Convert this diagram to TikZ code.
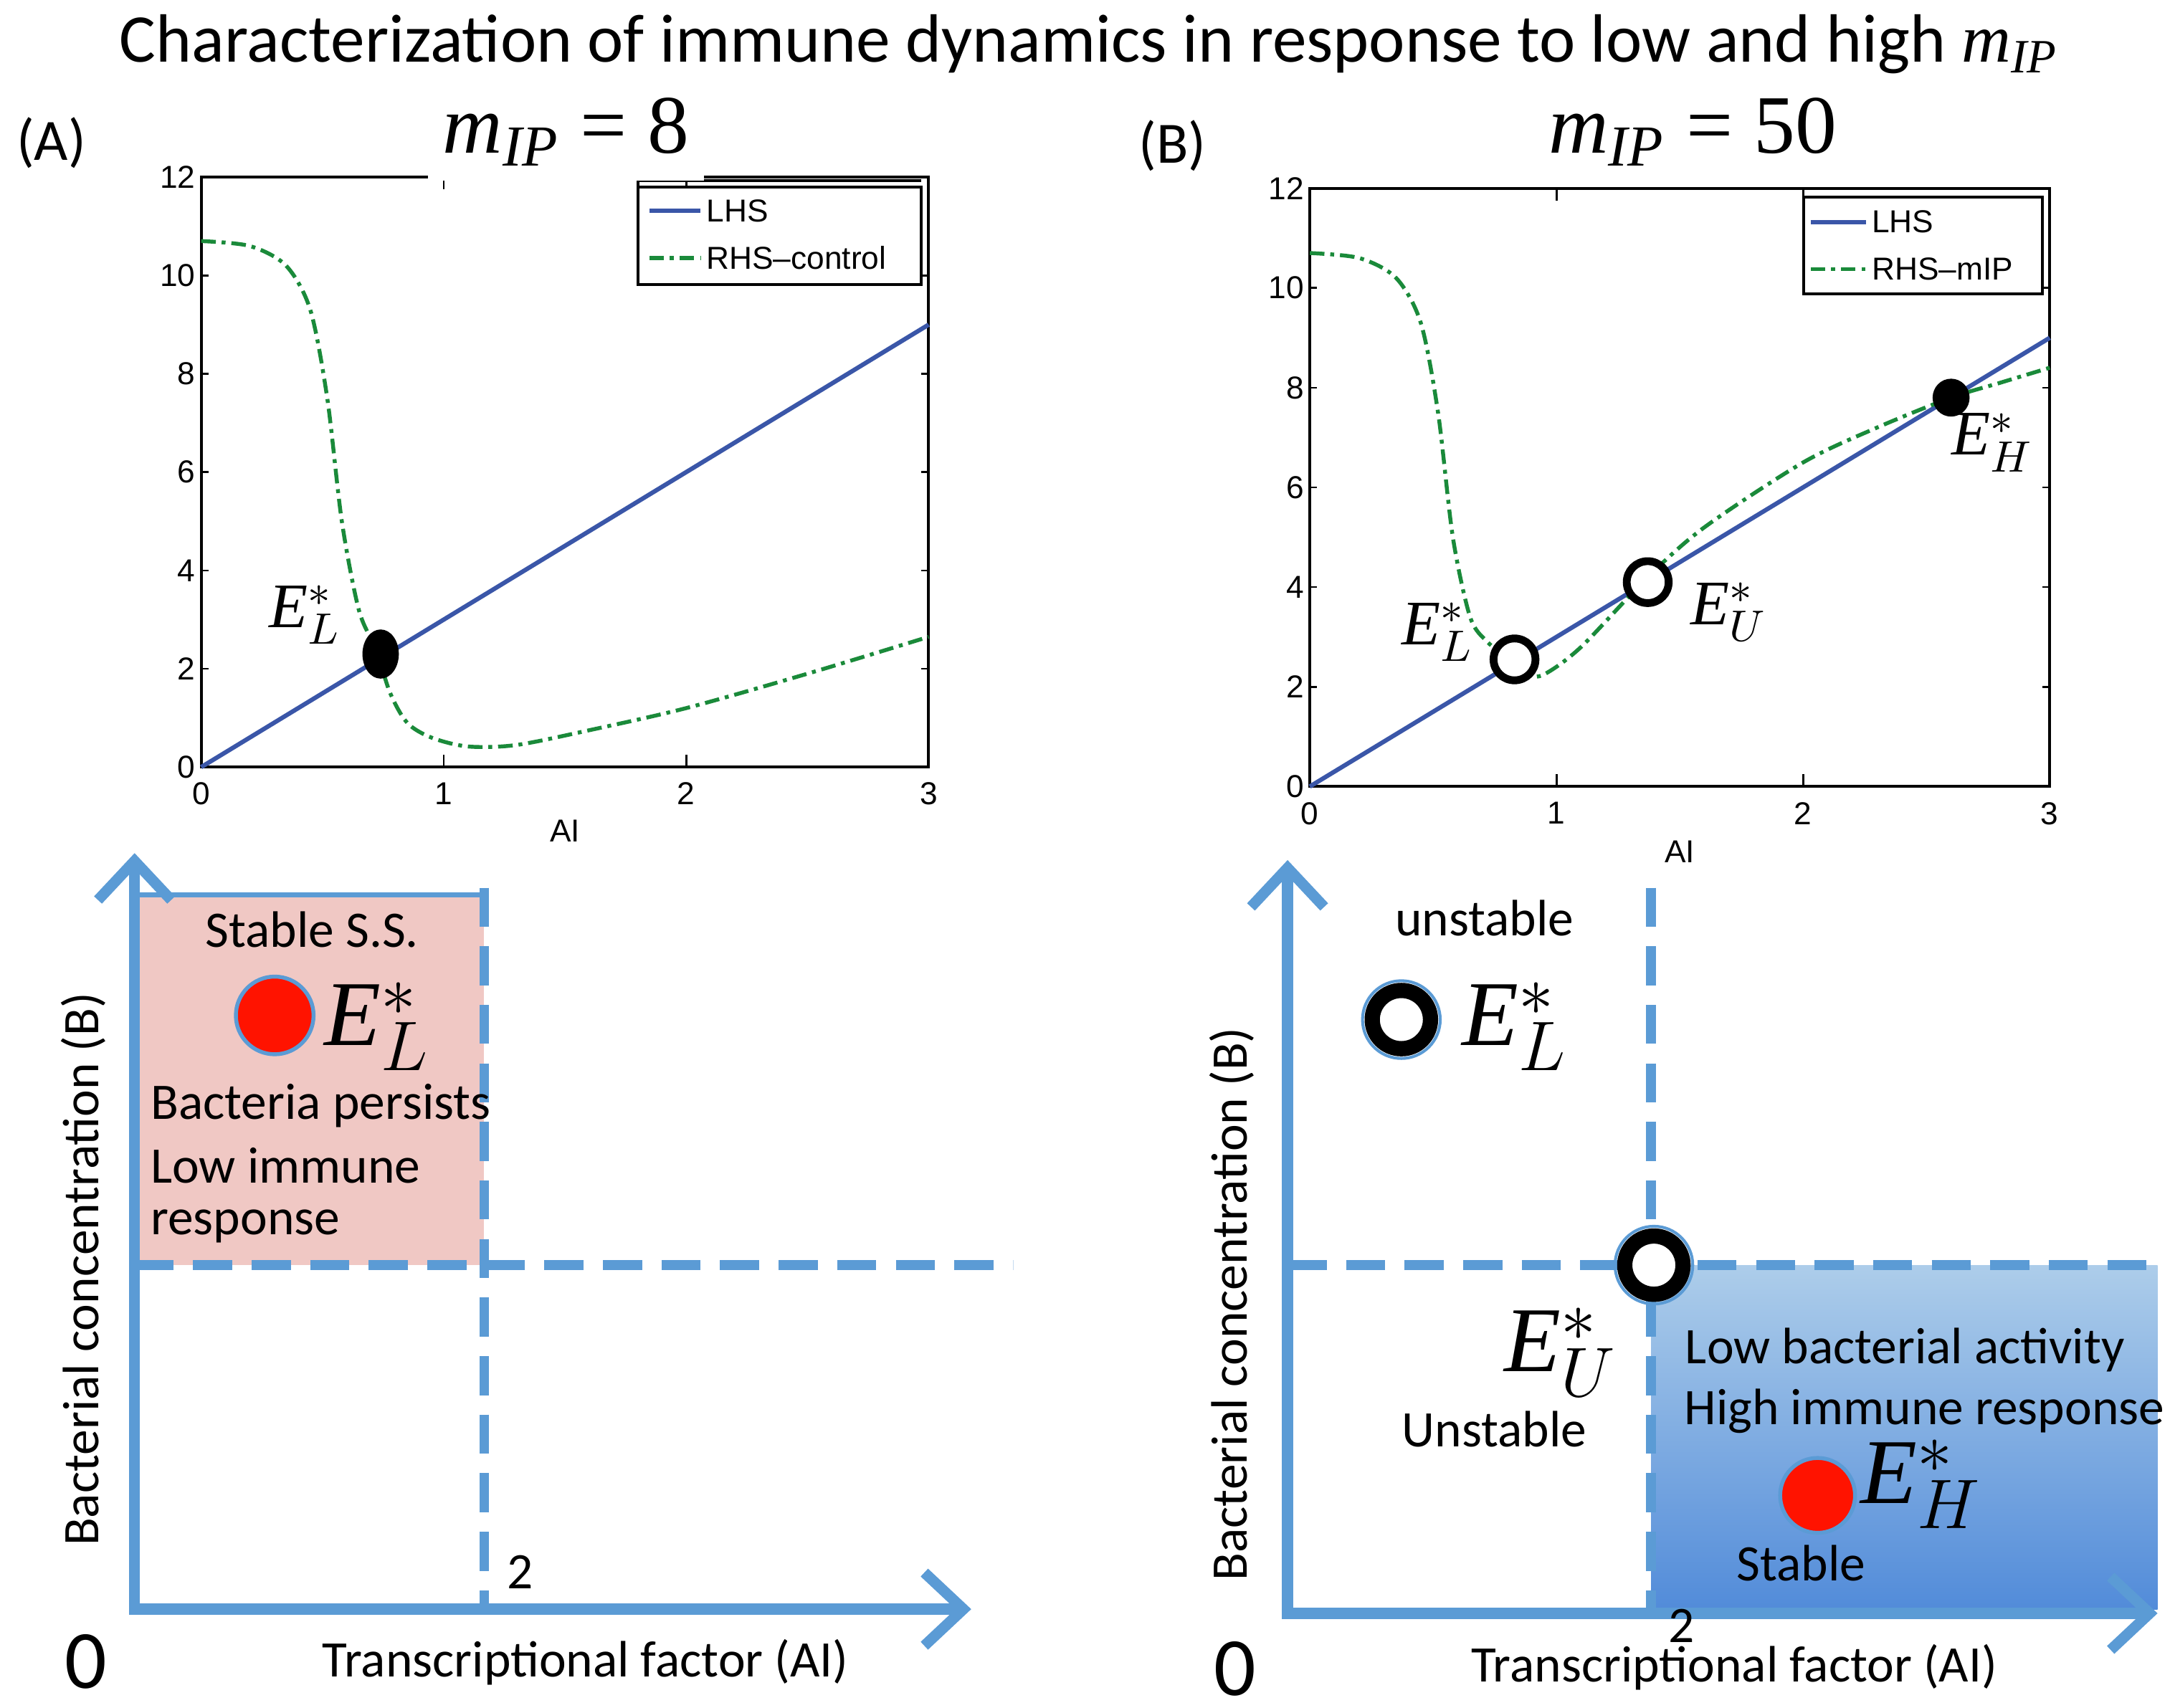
\documentclass[tikz,border=0pt]{standalone}
\usepackage{fontspec}
\setmainfont{Carlito}
\newfontfamily\arialf{Liberation Sans}
\newfontfamily\timesf{Liberation Serif}
\usetikzlibrary{arrows.meta}
\definecolor{ax}{HTML}{5B9BD5}
\definecolor{gr}{HTML}{1A8A3A}
\definecolor{lb}{HTML}{3A56A8}
\definecolor{pk}{HTML}{F0C8C4}
\tikzset{
 axarrow/.style={ax,line width=8pt*0.2845,-{Straight Barb[length=8pt,width=15pt,line width=2.2pt]}},
 dashax/.style={ax,line width=7pt*0.2845,dash pattern=on 8pt off 4pt},
 txt/.style={font=\fontsize{10.5}{12}\selectfont,inner sep=0pt},
 bigE/.style={font=\timesf\itshape\fontsize{19}{20}\selectfont,inner sep=0pt},
 midE/.style={font=\timesf\itshape\fontsize{13}{14}\selectfont,inner sep=0pt},
 tick/.style={font=\arialf\fontsize{6.5}{7}\selectfont,inner sep=1pt},
 green/.style={gr,line width=0.8pt,dash pattern=on 3pt off 1.2pt on 0.8pt off 1.2pt},
 lhs/.style={lb,line width=0.9pt},
 ring/.style={line width=11pt*0.2845,fill=white},
}
\begin{document}
\begin{tikzpicture}[x=0.01cm,y=-0.01cm]
\useasboundingbox (0,0) rectangle (1564,1231);
\fill[white] (0,0) rectangle (1564,1231);
\node[font=\fontsize{14}{16}\selectfont] (title) at (785,32) {Characterization of immune dynamics in response to low and high \textit{\timesf m\textsubscript{IP}}};
\node[font=\fontsize{12}{14}\selectfont] (la) at (37,103) {(A)};
\node[font=\fontsize{12}{14}\selectfont] (lbb) at (845,105) {(B)};
% Plot A
\begin{scope}[shift={(145,553)},x=1.7467cm,y=0.3542cm]
\draw[line width=0.6pt] (0,0) rectangle (3,12);
\foreach \i in {0,2,...,12}{\draw[line width=0.4pt] (0,\i)--(0.03,\i) (3,\i)--(2.97,\i); \node[tick,left] at (0,\i) {\i};}
\foreach \i in {0,1,2,3}{\draw[line width=0.4pt] (\i,0)--(\i,0.25) (\i,12)--(\i,11.75); \node[tick,below=2pt] at (\i,0) {\i};}
\node[tick] at (1.5,-1.3) {AI};
\draw[lhs] (0,0)--(3,9);
\draw[green] plot[smooth] coordinates {(0,10.7)(0.2,10.6)(0.35,10.2)(0.45,9.3)(0.52,7.5)(0.58,5)(0.65,3.2)(0.72,2.4)(0.78,1.5)(0.85,0.9)(0.95,0.6)(1.1,0.42)(1.3,0.45)(1.6,0.75)(2,1.2)(2.5,1.9)(3,2.65)};
\fill (0.74,2.3) ellipse (0.075 and 0.5);
\node[midE] at (0.43,3.1) {E$^*_L$};
\end{scope}
\draw[fill=white,line width=0.6pt] (460,135) rectangle (664,205);
\draw[lhs] (468,152)--(505,152); \node[tick,right] at (505,152) {LHS};
\draw[green] (468,186)--(505,186); \node[tick,right] at (505,186) {RHS\textendash control};
\draw[line width=0.6pt] (460,205)--(460,130)--(664,130);
\node[fill=white,inner sep=3pt,font=\timesf\fontsize{17}{18}\selectfont] (ta) at (408,95) {\textit{m\textsubscript{IP}} = 8};
% Plot B
\begin{scope}[shift={(944,567)},x=1.7767cm,y=0.3592cm]
\draw[line width=0.6pt] (0,0) rectangle (3,12);
\foreach \i in {0,2,...,12}{\draw[line width=0.4pt] (0,\i)--(0.03,\i) (3,\i)--(2.97,\i); \node[tick,left] at (0,\i) {\i};}
\foreach \i in {0,1,2,3}{\draw[line width=0.4pt] (\i,0)--(\i,0.25) (\i,12)--(\i,11.75); \node[tick,below=2pt] at (\i,0) {\i};}
\node[tick] at (1.5,-1.3) {AI};
\draw[lhs] (0,0)--(3,9);
\draw[green] plot[smooth] coordinates {(0,10.7)(0.2,10.6)(0.35,10.2)(0.45,9.3)(0.52,7.5)(0.58,5)(0.65,3.4)(0.72,2.9)(0.8,2.6)(0.88,2.25)(0.95,2.25)(1.1,2.8)(1.37,4.2)(1.6,5.2)(2,6.5)(2.3,7.2)(2.6,7.8)(2.8,8.1)(3,8.4)};
\draw[line width=1.6pt,fill=white] (0.83,2.55) circle (0.085 and 0.42);
\draw[line width=1.6pt,fill=white] (1.37,4.1) circle (0.085 and 0.42);
\fill (2.6,7.8) circle (0.075 and 0.38);
\node[midE] at (0.52,3.1) {E$^*_L$};
\node[midE] at (1.7,3.5) {E$^*_U$};
\node[midE] at (2.77,6.9) {E$^*_H$};
\end{scope}
\draw[fill=white,line width=0.6pt] (1300,142) rectangle (1472,212);
\draw[lhs] (1305,160)--(1345,160); \node[tick,right] at (1345,160) {LHS};
\draw[green] (1305,194)--(1345,194); \node[tick,right] at (1345,194) {RHS\textendash mIP};
\node[fill=white,inner sep=3pt,font=\timesf\fontsize{17}{18}\selectfont] (tb) at (1220,95) {\textit{m\textsubscript{IP}} = 50};
% Bottom A
\fill[pk] (97,645) rectangle (349,912);
\draw[ax,line width=1pt] (97,645)--(349,645);
\draw[dashax] (349,640)--(349,1162);
\draw[dashax] (97,912)--(730,912);
\draw[axarrow] (97,1162)--(97,615);
\draw[axarrow] (93,1160)--(700,1160);
\node[txt] at (225,670) {Stable S.S.};
\draw[ax,fill=red!85!orange,line width=0.8pt] (198,732) circle (28);
\node[bigE] at (272,740) {E$^*_L$};
\node[txt,right] at (108,797) {Bacteria persists};
\node[txt,right] at (108,840) {Low immune};
\node[txt,right] at (108,884) {response};
\node[txt] at (375,1133) {2};
\node[font=\fontsize{17}{18}\selectfont,inner sep=0pt] at (62,1198) {0};
\node[txt] at (422,1198) {Transcriptional factor (AI)};
\node[txt,rotate=90] at (60,915) {Bacterial concentration (B)};
% Bottom B
\shade[top color=ax!50!white,bottom color=ax!90!blue] (1190,912) rectangle (1555,1160);
\draw[dashax] (1190,640)--(1190,1160);
\draw[dashax] (928,912)--(1555,912);
\draw[axarrow] (928,1165)--(928,620);
\draw[axarrow] (924,1163)--(1555,1163);
\draw[ring] (1192,912) circle (21);
\draw[ax,line width=0.6pt] (1192,912) circle (28);
\draw[ring] (1010,735) circle (21);
\draw[ax,line width=0.6pt] (1010,735) circle (28);
\node[txt] at (1070,662) {unstable};
\node[bigE] at (1092,740) {E$^*_L$};
\node[bigE] at (1125,975) {E$^*_U$};
\node[txt] at (1077,1030) {Unstable};
\node[txt] at (1373,973) {Low bacterial activity};
\node[txt] at (1387,1017) {High immune response};
\draw[ax,fill=red!85!orange,line width=0.8pt] (1310,1078) circle (27);
\node[bigE] at (1385,1070) {E$^*_H$};
\node[txt] at (1298,1127) {Stable};
\node[txt] at (1212,1172) {2};
\node[font=\fontsize{17}{18}\selectfont,inner sep=0pt] at (890,1203) {0};
\node[txt] at (1250,1202) {Transcriptional factor (AI)};
\node[txt,rotate=90] at (888,940) {Bacterial concentration (B)};
\end{tikzpicture}
\end{document}
